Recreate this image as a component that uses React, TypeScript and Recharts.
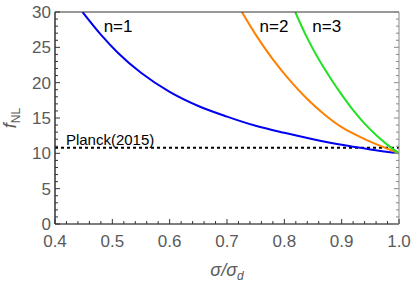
import { LineChart, Line, XAxis, YAxis, ReferenceLine, ReferenceDot } from "recharts";

// sigma / sigma_d and f_NL, one pair of arrays per curve
const sigmaN1 = [0.448, 0.48, 0.51, 0.55, 0.6, 0.65, 0.7, 0.75, 0.8, 0.85, 0.9, 0.95, 1.0];
const fnlN1 = [30, 26.8, 24.2, 21.4, 18.7, 16.7, 15.2, 13.9, 12.9, 12.0, 11.2, 10.55, 10.0];

const sigmaN2 = [0.726, 0.75, 0.78, 0.81, 0.84, 0.87, 0.9, 0.93, 0.96, 1.0];
const fnlN2 = [30, 26.8, 23.3, 20.3, 17.7, 15.5, 13.7, 12.4, 11.3, 10.0];

const sigmaN3 = [0.819, 0.84, 0.86, 0.88, 0.9, 0.92, 0.94, 0.96, 0.98, 1.0];
const fnlN3 = [30, 26.3, 23.3, 20.7, 18.3, 16.1, 14.2, 12.6, 11.2, 10.0];

const planckBound = 10.8;

const xTicks = Array.from({ length: 31 }, (_, i) => Math.round((0.4 + i * 0.02) * 100) / 100);
const yTicks = Array.from({ length: 31 }, (_, i) => i);

const toRows = (xs: number[], ys: number[]) => xs.map((s, i) => ({ sigma: s, f: ys[i] }));

const dark = "#333";
const gray = "#888";
const tickText = "#5a5a5a";
const font = "'Liberation Sans', Arial, sans-serif";

const isMajor = (v: number, step: number) => Math.abs(v / step - Math.round(v / step)) < 1e-6;

function BottomTick({ x, y, payload }: any) {
  const major = isMajor(payload.value, 0.1);
  return (
    <g>
      <line x1={x} x2={x} y1={y} y2={y - (major ? 5 : 3)} stroke={dark} />
      {major && (
        <text x={x} y={y + 23} textAnchor="middle" fill={tickText} fontSize={17}>
          {payload.value.toFixed(1)}
        </text>
      )}
    </g>
  );
}

function TopTick({ x, y, payload }: any) {
  const major = isMajor(payload.value, 0.1);
  return <line x1={x} x2={x} y1={y} y2={y + (major ? 5 : 3)} stroke={dark} />;
}

function LeftTick({ x, y, payload }: any) {
  const major = payload.value % 5 === 0;
  return (
    <g>
      <line x1={x} x2={x + (major ? 5 : 3)} y1={y} y2={y} stroke={dark} />
      {major && (
        <text x={x - 4} y={y + 6} textAnchor="end" fill={tickText} fontSize={17}>
          {payload.value}
        </text>
      )}
    </g>
  );
}

function RightTick({ x, y, payload }: any) {
  const major = payload.value % 5 === 0;
  return <line x1={x} x2={x - (major ? 5 : 3)} y1={y} y2={y} stroke={gray} />;
}

function FnlLabel({ viewBox }: any) {
  const cx = viewBox.x + 16;
  const cy = viewBox.y + viewBox.height / 2;
  return (
    <text transform={`translate(${cx},${cy}) rotate(-90)`} textAnchor="middle" fill={tickText} fontSize={18}>
      <tspan fontStyle="italic">f</tspan>
      <tspan fontSize={12} dy={4}>NL</tspan>
    </text>
  );
}

function SigmaLabel({ viewBox }: any) {
  const cx = viewBox.x + viewBox.width / 2;
  const cy = viewBox.y + 52;
  return (
    <text x={cx} y={cy} textAnchor="middle" fill={tickText} fontSize={18} fontStyle="italic">
      σ/σ
      <tspan fontSize={12} dy={4}>d</tspan>
    </text>
  );
}

export default function App() {
  return (
    <div style={{ position: "absolute", left: 0, top: 0 }}>
      <LineChart
        width={415}
        height={283}
        margin={{ top: 11, right: 15, left: 0, bottom: 0 }}
        style={{ fontFamily: font }}
      >
        <XAxis
          dataKey="sigma"
          type="number"
          domain={[0.4, 1]}
          ticks={xTicks}
          interval={0}
          allowDataOverflow
          height={59}
          tickSize={0}
          tickMargin={0}
          tickLine={false}
          axisLine={{ stroke: "#555", strokeWidth: 1.5 }}
          tick={<BottomTick />}
          label={<SigmaLabel />}
        />
        <XAxis
          xAxisId="top"
          orientation="top"
          type="number"
          domain={[0.4, 1]}
          ticks={xTicks}
          interval={0}
          allowDataOverflow
          height={1}
          tickSize={0}
          tickMargin={0}
          tickLine={false}
          axisLine={{ stroke: dark }}
          tick={<TopTick />}
        />
        <YAxis
          type="number"
          domain={[0, 30]}
          ticks={yTicks}
          interval={0}
          allowDataOverflow
          width={55}
          tickSize={0}
          tickMargin={0}
          tickLine={false}
          axisLine={{ stroke: dark, strokeWidth: 1.5 }}
          tick={<LeftTick />}
          label={<FnlLabel />}
        />
        <YAxis
          yAxisId="right"
          orientation="right"
          type="number"
          domain={[0, 30]}
          ticks={yTicks}
          interval={0}
          allowDataOverflow
          width={1}
          tickSize={0}
          tickMargin={0}
          tickLine={false}
          axisLine={{ stroke: gray }}
          tick={<RightTick />}
        />
        <ReferenceLine y={planckBound} stroke="#000" strokeWidth={2} strokeDasharray="3 3" />
        <Line data={toRows(sigmaN1, fnlN1)} dataKey="f" type="monotone" stroke="#0000f0" strokeWidth={2} dot={false} isAnimationActive={false} />
        <Line data={toRows(sigmaN2, fnlN2)} dataKey="f" type="monotone" stroke="#ff8000" strokeWidth={2} dot={false} isAnimationActive={false} />
        <Line data={toRows(sigmaN3, fnlN3)} dataKey="f" type="monotone" stroke="#22e022" strokeWidth={2} dot={false} isAnimationActive={false} />
        <ReferenceDot x={0.51} y={28} r={0} label={{ value: "n=1", position: "center", fill: "#000", fontSize: 17 }} />
        <ReferenceDot x={0.782} y={28} r={0} label={{ value: "n=2", position: "center", fill: "#000", fontSize: 17 }} />
        <ReferenceDot x={0.874} y={28} r={0} label={{ value: "n=3", position: "center", fill: "#000", fontSize: 17 }} />
        <ReferenceDot x={0.419} y={12} r={0} label={{ value: "Planck(2015)", position: "right", offset: 0, fill: "#000", fontSize: 15 }} />
      </LineChart>
    </div>
  );
}
